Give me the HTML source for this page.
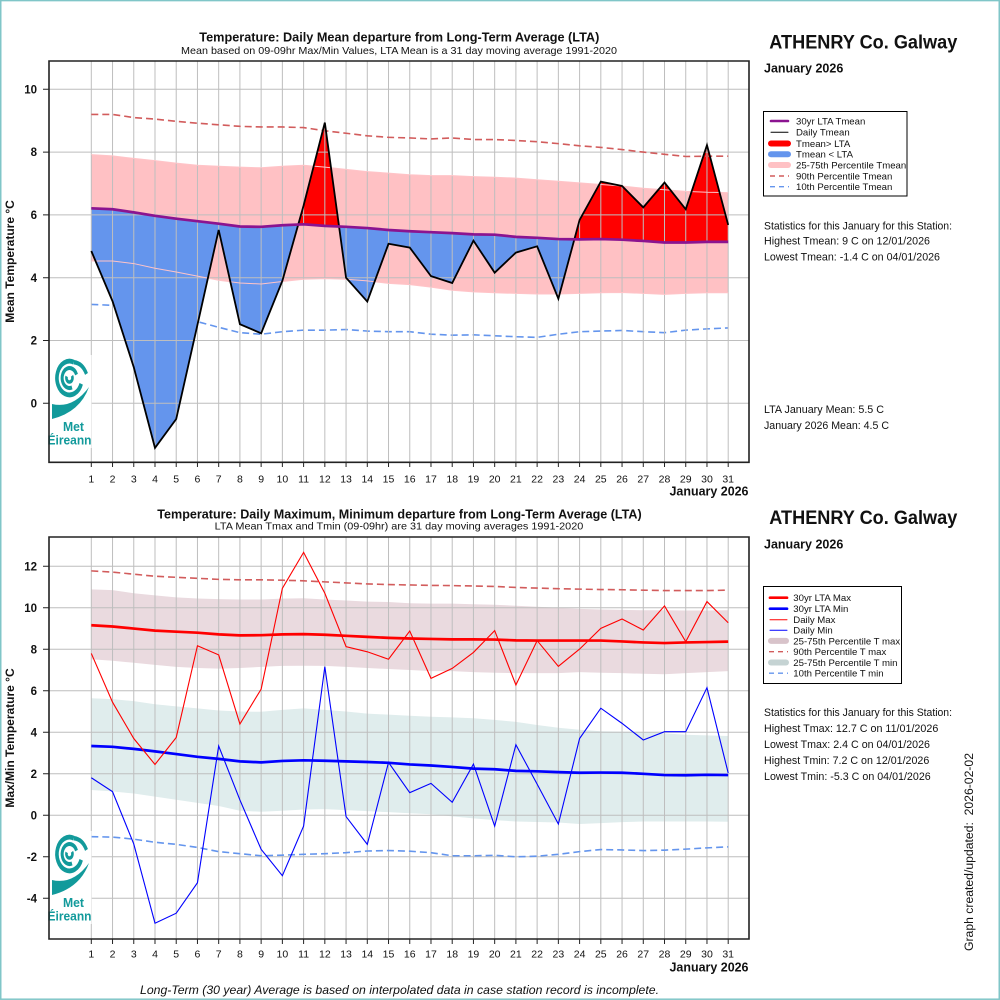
<!DOCTYPE html>
<html><head><meta charset="utf-8"><style>
html,body{margin:0;padding:0;background:#fff;}
svg{display:block;font-family:"Liberation Sans",Arial,sans-serif;}
.b{font-weight:bold;}
</style></head><body>
<svg width="1000" height="1000" viewBox="0 0 1000 1000" xmlns="http://www.w3.org/2000/svg">
<defs>
<clipPath id="aboveLTA" clipPathUnits="userSpaceOnUse"><polygon points="1,6.21 2,6.18 3,6.08 4,5.97 5,5.88 6,5.8 7,5.72 8,5.63 9,5.62 10,5.67 11,5.7 12,5.65 13,5.62 14,5.58 15,5.52 16,5.48 17,5.45 18,5.42 19,5.38 20,5.37 21,5.3 22,5.27 23,5.23 24,5.22 25,5.23 26,5.21 27,5.17 28,5.12 29,5.12 30,5.14 31,5.14 31,12 1,12"/></clipPath>
<clipPath id="belowLTA" clipPathUnits="userSpaceOnUse"><polygon points="1,6.21 2,6.18 3,6.08 4,5.97 5,5.88 6,5.8 7,5.72 8,5.63 9,5.62 10,5.67 11,5.7 12,5.65 13,5.62 14,5.58 15,5.52 16,5.48 17,5.45 18,5.42 19,5.38 20,5.37 21,5.3 22,5.27 23,5.23 24,5.22 25,5.23 26,5.21 27,5.17 28,5.12 29,5.12 30,5.14 31,5.14 31,-3 1,-3"/></clipPath>
</defs>
<rect x="0" y="0" width="1000" height="1000" fill="#fff"/>

<!-- ================= TOP CHART ================= -->
<g transform="matrix(21.23 0 0 -31.4 70.07 403.3)">
  <polygon fill="#ffc1c4" points="1,7.92 2,7.88 3,7.8 4,7.73 5,7.65 6,7.58 7,7.55 8,7.52 9,7.5 10,7.55 11,7.58 12,7.52 13,7.45 14,7.38 15,7.33 16,7.28 17,7.25 18,7.25 19,7.22 20,7.2 21,7.17 22,7.12 23,7.07 24,7.02 25,6.97 26,6.92 27,6.85 28,6.8 29,6.75 30,6.72 31,6.71 31,3.52 30,3.52 29,3.5 28,3.47 27,3.5 26,3.53 25,3.52 24,3.5 23,3.48 22,3.48 21,3.5 20,3.52 19,3.55 18,3.6 17,3.7 16,3.78 15,3.82 14,3.9 13,3.95 12,3.97 11,3.95 10,3.88 9,3.8 8,3.83 7,3.92 6,4.05 5,4.18 4,4.3 3,4.45 2,4.53 1,4.53"/>
  <polyline fill="none" stroke="#6495ed" stroke-width="1.6" stroke-dasharray="7,4" vector-effect="non-scaling-stroke" points="1,3.15 2,3.12 3,3.0 4,2.9 5,2.8 6,2.6 7,2.42 8,2.25 9,2.2 10,2.28 11,2.33 12,2.33 13,2.35 14,2.3 15,2.28 16,2.28 17,2.2 18,2.17 19,2.18 20,2.15 21,2.12 22,2.1 23,2.2 24,2.28 25,2.3 26,2.32 27,2.28 28,2.25 29,2.33 30,2.37 31,2.4"/>
  <polygon fill="#ff0000" clip-path="url(#aboveLTA)" points="1,4.85 2,3.25 3,1.15 4,-1.42 5,-0.5 6,2.5 7,5.52 8,2.52 9,2.23 10,3.9 11,6.3 12,8.94 13,4.0 14,3.24 15,5.08 16,4.96 17,4.05 18,3.83 19,5.18 20,4.16 21,4.8 22,5.0 23,3.33 24,5.84 25,7.06 26,6.92 27,6.24 28,7.03 29,6.18 30,8.22 31,5.68 31,-3 1,-3"/>
  <polygon fill="#6495ed" clip-path="url(#belowLTA)" points="1,4.85 2,3.25 3,1.15 4,-1.42 5,-0.5 6,2.5 7,5.52 8,2.52 9,2.23 10,3.9 11,6.3 12,8.94 13,4.0 14,3.24 15,5.08 16,4.96 17,4.05 18,3.83 19,5.18 20,4.16 21,4.8 22,5.0 23,3.33 24,5.84 25,7.06 26,6.92 27,6.24 28,7.03 29,6.18 30,8.22 31,5.68 31,12 1,12"/>
</g>
<!-- grid top -->
<path fill="none" stroke="#bebebe" stroke-width="1" d="M49,403.3H749M49,340.5H749M49,277.7H749M49,214.9H749M49,152.1H749M49,89.3H749
M91.3,61V462M112.53,61V462M133.76,61V462M154.99,61V462M176.22,61V462M197.45,61V462M218.68,61V462M239.91,61V462M261.14,61V462M282.37,61V462M303.6,61V462M324.83,61V462M346.06,61V462M367.29,61V462M388.52,61V462M409.75,61V462M430.98,61V462M452.21,61V462M473.44,61V462M494.67,61V462M515.9,61V462M537.13,61V462M558.36,61V462M579.59,61V462M600.82,61V462M622.05,61V462M643.28,61V462M664.51,61V462M685.74,61V462M706.97,61V462M728.2,61V462"/>
<g transform="matrix(21.23 0 0 -31.4 70.07 403.3)">
  <polyline fill="none" stroke="#ffc4c8" stroke-width="1" vector-effect="non-scaling-stroke" points="1,7.92 2,7.88 3,7.8 4,7.73 5,7.65 6,7.58 7,7.55 8,7.52 9,7.5 10,7.55 11,7.58 12,7.52 13,7.45 14,7.38 15,7.33 16,7.28 17,7.25 18,7.25 19,7.22 20,7.2 21,7.17 22,7.12 23,7.07 24,7.02 25,6.97 26,6.92 27,6.85 28,6.8 29,6.75 30,6.72 31,6.71"/>
  <polyline fill="none" stroke="#ffc4c8" stroke-width="1" vector-effect="non-scaling-stroke" points="31,3.52 30,3.52 29,3.5 28,3.47 27,3.5 26,3.53 25,3.52 24,3.5 23,3.48 22,3.48 21,3.5 20,3.52 19,3.55 18,3.6 17,3.7 16,3.78 15,3.82 14,3.9 13,3.95 12,3.97 11,3.95 10,3.88 9,3.8 8,3.83 7,3.92 6,4.05 5,4.18 4,4.3 3,4.45 2,4.53 1,4.53"/>
  <polyline fill="none" stroke="#d25c5c" stroke-width="1.6" stroke-dasharray="7,4" vector-effect="non-scaling-stroke" points="1,9.2 2,9.2 3,9.1 4,9.05 5,8.98 6,8.92 7,8.87 8,8.82 9,8.8 10,8.8 11,8.78 12,8.68 13,8.6 14,8.52 15,8.47 16,8.45 17,8.42 18,8.45 19,8.4 20,8.4 21,8.37 22,8.33 23,8.27 24,8.2 25,8.15 26,8.08 27,8.0 28,7.93 29,7.86 30,7.87 31,7.87"/>
  <polyline fill="none" stroke="#000" stroke-width="1.8" stroke-linejoin="miter" vector-effect="non-scaling-stroke" points="1,4.85 2,3.25 3,1.15 4,-1.42 5,-0.5 6,2.5 7,5.52 8,2.52 9,2.23 10,3.9 11,6.3 12,8.94 13,4.0 14,3.24 15,5.08 16,4.96 17,4.05 18,3.83 19,5.18 20,4.16 21,4.8 22,5.0 23,3.33 24,5.84 25,7.06 26,6.92 27,6.24 28,7.03 29,6.18 30,8.22 31,5.68"/>
  <polyline fill="none" stroke="#8b1490" stroke-width="2.7" stroke-linejoin="round" vector-effect="non-scaling-stroke" points="1,6.21 2,6.18 3,6.08 4,5.97 5,5.88 6,5.8 7,5.72 8,5.63 9,5.62 10,5.67 11,5.7 12,5.65 13,5.62 14,5.58 15,5.52 16,5.48 17,5.45 18,5.42 19,5.38 20,5.37 21,5.3 22,5.27 23,5.23 24,5.22 25,5.23 26,5.21 27,5.17 28,5.12 29,5.12 30,5.14 31,5.14"/>
</g>
<!-- logo top -->
<g id="logo">
  <rect x="50" y="355" width="41.5" height="93" fill="#fff"/>
  <g transform="translate(69.5,378) scale(1,1.35)" fill="none" stroke="#129a9b" stroke-linecap="butt">
    <path stroke-width="3.6" d="M4.3,-11.7 A12.5,12.5 0 1 0 11.7,4.3"/>
    <path stroke-width="3.2" d="M4.3,-11.7 Q13,-11 17,-3"/>
    <path stroke-width="3" d="M7,-2.5 A7.4,7.4 0 1 0 2.5,7"/>
    <path stroke-width="2.6" d="M-2.8,-1.2 A3,3 0 1 0 2.5,-1.6"/>
  </g>
  <path fill="#129a9b" d="M52,404 Q73,409 89,387 Q80,412 52,419 Z"/>
  <text class="b" x="63" y="431" fill="#129a9b" font-size="13" textLength="21" lengthAdjust="spacingAndGlyphs">Met</text>
  <text class="b" x="47.5" y="444.5" fill="#129a9b" font-size="12.5" textLength="44" lengthAdjust="spacingAndGlyphs">Éireann</text>
</g>
<!-- axes top -->
<path fill="none" stroke="#222" stroke-width="1.6" d="M49,61H749V462.3H49Z"/>
<path fill="none" stroke="#222" stroke-width="1" d="M43,403.3H49M43,340.5H49M43,277.7H49M43,214.9H49M43,152.1H49M43,89.3H49
M91.3,462V467M112.53,462V467M133.76,462V467M154.99,462V467M176.22,462V467M197.45,462V467M218.68,462V467M239.91,462V467M261.14,462V467M282.37,462V467M303.6,462V467M324.83,462V467M346.06,462V467M367.29,462V467M388.52,462V467M409.75,462V467M430.98,462V467M452.21,462V467M473.44,462V467M494.67,462V467M515.9,462V467M537.13,462V467M558.36,462V467M579.59,462V467M600.82,462V467M622.05,462V467M643.28,462V467M664.51,462V467M685.74,462V467M706.97,462V467M728.2,462V467"/>
<g class="b" font-size="11.5" text-anchor="end" fill="#111">
  <text x="37" y="407.4">0</text><text x="37" y="344.6">2</text><text x="37" y="281.8">4</text><text x="37" y="219">6</text><text x="37" y="156.2">8</text><text x="37" y="93.4">10</text>
</g>
<g font-size="10.5" text-anchor="middle" fill="#111">
  <text x="91.3" y="482.3">1</text><text x="112.53" y="482.3">2</text><text x="133.76" y="482.3">3</text><text x="154.99" y="482.3">4</text><text x="176.22" y="482.3">5</text><text x="197.45" y="482.3">6</text><text x="218.68" y="482.3">7</text><text x="239.91" y="482.3">8</text><text x="261.14" y="482.3">9</text><text x="282.37" y="482.3">10</text><text x="303.6" y="482.3">11</text><text x="324.83" y="482.3">12</text><text x="346.06" y="482.3">13</text><text x="367.29" y="482.3">14</text><text x="388.52" y="482.3">15</text><text x="409.75" y="482.3">16</text><text x="430.98" y="482.3">17</text><text x="452.21" y="482.3">18</text><text x="473.44" y="482.3">19</text><text x="494.67" y="482.3">20</text><text x="515.9" y="482.3">21</text><text x="537.13" y="482.3">22</text><text x="558.36" y="482.3">23</text><text x="579.59" y="482.3">24</text><text x="600.82" y="482.3">25</text><text x="622.05" y="482.3">26</text><text x="643.28" y="482.3">27</text><text x="664.51" y="482.3">28</text><text x="685.74" y="482.3">29</text><text x="706.97" y="482.3">30</text><text x="728.2" y="482.3">31</text>
</g>
<text class="b" x="669.5" y="495.7" font-size="12.5" textLength="79" lengthAdjust="spacingAndGlyphs" fill="#111">January 2026</text>
<text class="b" x="199.3" y="41.5" font-size="12.5" textLength="400" lengthAdjust="spacingAndGlyphs" fill="#111">Temperature: Daily Mean departure from Long-Term Average (LTA)</text>
<text x="181" y="54" font-size="10.4" textLength="436" lengthAdjust="spacingAndGlyphs" fill="#111">Mean based on 09-09hr Max/Min Values, LTA Mean is a 31 day moving average 1991-2020</text>
<text class="b" transform="translate(14,261.5) rotate(-90)" text-anchor="middle" font-size="12" fill="#111">Mean Temperature °C</text>

<!-- right panel top -->
<text class="b" x="769.3" y="48.3" font-size="19" textLength="188" lengthAdjust="spacingAndGlyphs" fill="#111">ATHENRY Co. Galway</text>
<text class="b" x="764" y="72.3" font-size="12.8" textLength="79.3" lengthAdjust="spacingAndGlyphs" fill="#111">January 2026</text>
<rect x="763.5" y="111.5" width="143.5" height="84.5" fill="#fff" stroke="#000" stroke-width="1"/>
<g stroke-linecap="round">
  <line x1="771" y1="121" x2="788" y2="121" stroke="#8b1490" stroke-width="2.6"/>
  <line x1="771" y1="132.3" x2="788" y2="132.3" stroke="#000" stroke-width="1"/>
  <line x1="771" y1="143.5" x2="788" y2="143.5" stroke="#ff0000" stroke-width="6"/>
  <line x1="771" y1="154.3" x2="788" y2="154.3" stroke="#6495ed" stroke-width="6"/>
  <line x1="771" y1="165" x2="788" y2="165" stroke="#ffc1c4" stroke-width="6"/>
</g>
<line x1="770" y1="176" x2="789" y2="176" stroke="#d25c5c" stroke-width="1.4" stroke-dasharray="5,4"/>
<line x1="770" y1="186.7" x2="789" y2="186.7" stroke="#6495ed" stroke-width="1.4" stroke-dasharray="5,4"/>
<g font-size="9.6" fill="#111">
  <text x="796" y="124.4">30yr LTA Tmean</text>
  <text x="796" y="135.7">Daily Tmean</text>
  <text x="796" y="146.9">Tmean&gt; LTA</text>
  <text x="796" y="157.7">Tmean &lt; LTA</text>
  <text x="796" y="168.4">25-75th Percentile Tmean</text>
  <text x="796" y="179.4">90th Percentile Tmean</text>
  <text x="796" y="190.1">10th Percentile Tmean</text>
</g>
<g font-size="11" fill="#111">
  <text x="764" y="229.3" textLength="188" lengthAdjust="spacingAndGlyphs">Statistics for this January for this Station:</text>
  <text x="764" y="244.6" textLength="166" lengthAdjust="spacingAndGlyphs">Highest Tmean: 9 C on 12/01/2026</text>
  <text x="764" y="260.5" textLength="176" lengthAdjust="spacingAndGlyphs">Lowest Tmean: -1.4 C on 04/01/2026</text>
  <text x="764" y="413.2" textLength="120" lengthAdjust="spacingAndGlyphs">LTA January Mean: 5.5 C</text>
  <text x="764" y="429" textLength="125" lengthAdjust="spacingAndGlyphs">January 2026 Mean: 4.5 C</text>
</g>

<!-- ================= BOTTOM CHART ================= -->
<g transform="matrix(21.23 0 0 -20.75 70.07 815.3)">
  <polygon fill="#eadadf" points="1,10.89 2,10.85 3,10.7 4,10.6 5,10.5 6,10.45 7,10.42 8,10.4 9,10.4 10,10.44 11,10.46 12,10.4 13,10.35 14,10.3 15,10.28 16,10.22 17,10.2 18,10.2 19,10.17 20,10.15 21,10.1 22,10.05 23,10.0 24,9.95 25,9.92 26,9.9 27,9.88 28,9.88 29,9.87 30,9.87 31,9.88 31,6.95 30,6.9 29,6.85 28,6.8 27,6.82 26,6.85 25,6.87 24,6.9 23,6.85 22,6.85 21,6.85 20,6.87 19,6.9 18,6.95 17,6.95 16,7.0 15,7.05 14,7.1 13,7.15 12,7.2 11,7.21 10,7.2 9,7.15 8,7.1 7,7.07 6,7.1 5,7.15 4,7.25 3,7.35 2,7.45 1,7.52"/>
  <polygon fill="#e0eded" points="1,5.64 2,5.6 3,5.5 4,5.35 5,5.25 6,5.15 7,5.05 8,5.0 9,4.99 10,5.08 11,5.15 12,5.08 13,5.0 14,4.9 15,4.85 16,4.8 17,4.75 18,4.72 19,4.68 20,4.6 21,4.5 22,4.35 23,4.22 24,4.12 25,4.05 26,4.03 27,4.02 28,3.95 29,3.88 30,3.85 31,3.82 31,-0.31 30,-0.3 29,-0.3 28,-0.3 27,-0.3 26,-0.33 25,-0.38 24,-0.42 23,-0.35 22,-0.32 21,-0.3 20,-0.23 19,-0.15 18,-0.05 17,0.05 16,0.1 15,0.15 14,0.2 13,0.25 12,0.3 11,0.28 10,0.22 9,0.17 8,0.22 7,0.45 6,0.6 5,0.75 4,0.9 3,1.05 2,1.15 1,1.22"/>
</g>
<path fill="none" stroke="#bebebe" stroke-width="1" d="M49,898.3H749M49,856.8H749M49,815.3H749M49,773.8H749M49,732.3H749M49,690.8H749M49,649.3H749M49,607.8H749M49,566.3H749
M91.3,537V939M112.53,537V939M133.76,537V939M154.99,537V939M176.22,537V939M197.45,537V939M218.68,537V939M239.91,537V939M261.14,537V939M282.37,537V939M303.6,537V939M324.83,537V939M346.06,537V939M367.29,537V939M388.52,537V939M409.75,537V939M430.98,537V939M452.21,537V939M473.44,537V939M494.67,537V939M515.9,537V939M537.13,537V939M558.36,537V939M579.59,537V939M600.82,537V939M622.05,537V939M643.28,537V939M664.51,537V939M685.74,537V939M706.97,537V939M728.2,537V939"/>
<g transform="matrix(21.23 0 0 -20.75 70.07 815.3)" fill="none" stroke-linejoin="round">
  <polyline stroke="#d25c5c" stroke-width="1.6" stroke-dasharray="7,4" vector-effect="non-scaling-stroke" points="1,11.78 2,11.72 3,11.62 4,11.52 5,11.47 6,11.42 7,11.37 8,11.35 9,11.35 10,11.33 11,11.3 12,11.25 13,11.2 14,11.15 15,11.12 16,11.1 17,11.08 18,11.07 19,11.05 20,11.03 21,10.98 22,10.95 23,10.92 24,10.9 25,10.88 26,10.87 27,10.85 28,10.83 29,10.83 30,10.83 31,10.85"/>
  <polyline stroke="#6495ed" stroke-width="1.6" stroke-dasharray="7,4" vector-effect="non-scaling-stroke" points="1,-1.03 2,-1.05 3,-1.15 4,-1.3 5,-1.4 6,-1.55 7,-1.75 8,-1.85 9,-1.95 10,-1.92 11,-1.88 12,-1.85 13,-1.8 14,-1.72 15,-1.7 16,-1.73 17,-1.8 18,-1.95 19,-1.95 20,-1.93 21,-2.0 22,-1.97 23,-1.88 24,-1.75 25,-1.65 26,-1.67 27,-1.7 28,-1.68 29,-1.63 30,-1.57 31,-1.52"/>
  <polyline stroke="#ff0000" stroke-width="2.7" vector-effect="non-scaling-stroke" points="1,9.16 2,9.1 3,9.0 4,8.9 5,8.85 6,8.8 7,8.72 8,8.67 9,8.68 10,8.72 11,8.73 12,8.7 13,8.65 14,8.6 15,8.55 16,8.52 17,8.5 18,8.48 19,8.48 20,8.47 21,8.43 22,8.42 23,8.42 24,8.42 25,8.42 26,8.38 27,8.33 28,8.3 29,8.33 30,8.35 31,8.37"/>
  <polyline stroke="#0000ff" stroke-width="2.7" vector-effect="non-scaling-stroke" points="1,3.34 2,3.3 3,3.2 4,3.08 5,2.95 6,2.82 7,2.72 8,2.6 9,2.55 10,2.62 11,2.65 12,2.63 13,2.6 14,2.57 15,2.53 16,2.45 17,2.4 18,2.33 19,2.25 20,2.22 21,2.14 22,2.12 23,2.08 24,2.05 25,2.06 26,2.05 27,2.0 28,1.94 29,1.93 30,1.95 31,1.94"/>
  <polyline stroke="#ff0000" stroke-width="1.1" stroke-linejoin="miter" vector-effect="non-scaling-stroke" points="1,7.8 2,5.45 3,3.7 4,2.45 5,3.75 6,8.17 7,7.73 8,4.4 9,6.08 10,10.94 11,12.67 12,10.7 13,8.13 14,7.88 15,7.52 16,8.88 17,6.6 18,7.08 19,7.85 20,8.9 21,6.28 22,8.42 23,7.18 24,8.01 25,9.01 26,9.46 27,8.93 28,10.09 29,8.37 30,10.3 31,9.28"/>
  <polyline stroke="#0000ff" stroke-width="1.1" stroke-linejoin="miter" vector-effect="non-scaling-stroke" points="1,1.81 2,1.14 3,-1.38 4,-5.2 5,-4.72 6,-3.25 7,3.34 8,0.74 9,-1.64 10,-2.91 11,-0.52 12,7.16 13,-0.06 14,-1.4 15,2.55 16,1.09 17,1.54 18,0.63 19,2.47 20,-0.52 21,3.4 22,1.5 23,-0.42 24,3.7 25,5.16 26,4.43 27,3.63 28,4.03 29,4.03 30,6.15 31,2.04"/>
</g>
<use href="#logo" transform="translate(0,476)"/>
<path fill="none" stroke="#222" stroke-width="1.6" d="M49,537H749V939H49Z"/>
<path fill="none" stroke="#222" stroke-width="1" d="M43,898.3H49M43,856.8H49M43,815.3H49M43,773.8H49M43,732.3H49M43,690.8H49M43,649.3H49M43,607.8H49M43,566.3H49
M91.3,939V944M112.53,939V944M133.76,939V944M154.99,939V944M176.22,939V944M197.45,939V944M218.68,939V944M239.91,939V944M261.14,939V944M282.37,939V944M303.6,939V944M324.83,939V944M346.06,939V944M367.29,939V944M388.52,939V944M409.75,939V944M430.98,939V944M452.21,939V944M473.44,939V944M494.67,939V944M515.9,939V944M537.13,939V944M558.36,939V944M579.59,939V944M600.82,939V944M622.05,939V944M643.28,939V944M664.51,939V944M685.74,939V944M706.97,939V944M728.2,939V944"/>
<g class="b" font-size="11.5" text-anchor="end" fill="#111">
  <text x="37" y="902.4">-4</text><text x="37" y="860.9">-2</text><text x="37" y="819.4">0</text><text x="37" y="777.9">2</text><text x="37" y="736.4">4</text><text x="37" y="694.9">6</text><text x="37" y="653.4">8</text><text x="37" y="611.9">10</text><text x="37" y="570.4">12</text>
</g>
<g font-size="10.5" text-anchor="middle" fill="#111">
  <text x="91.3" y="957.3">1</text><text x="112.53" y="957.3">2</text><text x="133.76" y="957.3">3</text><text x="154.99" y="957.3">4</text><text x="176.22" y="957.3">5</text><text x="197.45" y="957.3">6</text><text x="218.68" y="957.3">7</text><text x="239.91" y="957.3">8</text><text x="261.14" y="957.3">9</text><text x="282.37" y="957.3">10</text><text x="303.6" y="957.3">11</text><text x="324.83" y="957.3">12</text><text x="346.06" y="957.3">13</text><text x="367.29" y="957.3">14</text><text x="388.52" y="957.3">15</text><text x="409.75" y="957.3">16</text><text x="430.98" y="957.3">17</text><text x="452.21" y="957.3">18</text><text x="473.44" y="957.3">19</text><text x="494.67" y="957.3">20</text><text x="515.9" y="957.3">21</text><text x="537.13" y="957.3">22</text><text x="558.36" y="957.3">23</text><text x="579.59" y="957.3">24</text><text x="600.82" y="957.3">25</text><text x="622.05" y="957.3">26</text><text x="643.28" y="957.3">27</text><text x="664.51" y="957.3">28</text><text x="685.74" y="957.3">29</text><text x="706.97" y="957.3">30</text><text x="728.2" y="957.3">31</text>
</g>
<text class="b" x="669.5" y="971.7" font-size="12.5" textLength="79" lengthAdjust="spacingAndGlyphs" fill="#111">January 2026</text>
<text class="b" x="157.3" y="518.5" font-size="12.5" textLength="484.4" lengthAdjust="spacingAndGlyphs" fill="#111">Temperature: Daily Maximum, Minimum departure from Long-Term Average (LTA)</text>
<text x="214.7" y="529.6" font-size="10.4" textLength="368.6" lengthAdjust="spacingAndGlyphs" fill="#111">LTA Mean Tmax and Tmin (09-09hr) are 31 day moving averages 1991-2020</text>
<text class="b" transform="translate(14,738) rotate(-90)" text-anchor="middle" font-size="12" fill="#111">Max/Min Temperature °C</text>
<text x="140" y="994" font-size="12" font-style="italic" textLength="519" lengthAdjust="spacingAndGlyphs" fill="#111">Long-Term (30 year) Average is based on interpolated data in case station record is incomplete.</text>

<!-- right panel bottom -->
<text class="b" x="769.3" y="524" font-size="19" textLength="188" lengthAdjust="spacingAndGlyphs" fill="#111">ATHENRY Co. Galway</text>
<text class="b" x="764" y="548.3" font-size="12.8" textLength="79.3" lengthAdjust="spacingAndGlyphs" fill="#111">January 2026</text>
<rect x="763.5" y="586.5" width="138" height="97" fill="#fff" stroke="#000" stroke-width="1"/>
<g stroke-linecap="round">
  <line x1="770" y1="597.7" x2="787" y2="597.7" stroke="#ff0000" stroke-width="2.7"/>
  <line x1="770" y1="608.7" x2="787" y2="608.7" stroke="#0000ff" stroke-width="2.7"/>
  <line x1="770" y1="619.7" x2="787" y2="619.7" stroke="#ff0000" stroke-width="1"/>
  <line x1="770" y1="630.3" x2="787" y2="630.3" stroke="#0000ff" stroke-width="1"/>
  <line x1="771" y1="640.9" x2="786" y2="640.9" stroke="#d8c3ca" stroke-width="6"/>
  <line x1="771" y1="662.5" x2="786" y2="662.5" stroke="#c5d3d3" stroke-width="6"/>
</g>
<line x1="769" y1="651.7" x2="788" y2="651.7" stroke="#d25c5c" stroke-width="1.4" stroke-dasharray="5,4"/>
<line x1="769" y1="673.2" x2="788" y2="673.2" stroke="#6495ed" stroke-width="1.4" stroke-dasharray="5,4"/>
<g font-size="9.6" fill="#111">
  <text x="793.3" y="601.1">30yr LTA Max</text>
  <text x="793.3" y="612.1">30yr LTA Min</text>
  <text x="793.3" y="623.1">Daily Max</text>
  <text x="793.3" y="633.7">Daily Min</text>
  <text x="793.3" y="644.3">25-75th Percentile T max</text>
  <text x="793.3" y="655.1">90th Percentile T max</text>
  <text x="793.3" y="665.9">25-75th Percentile T min</text>
  <text x="793.3" y="676.6">10th Percentile T min</text>
</g>
<g font-size="11" fill="#111">
  <text x="764" y="716" textLength="188" lengthAdjust="spacingAndGlyphs">Statistics for this January for this Station:</text>
  <text x="764" y="732" textLength="174.3" lengthAdjust="spacingAndGlyphs">Highest Tmax: 12.7 C on 11/01/2026</text>
  <text x="764" y="747.8" textLength="166" lengthAdjust="spacingAndGlyphs">Lowest Tmax: 2.4 C on 04/01/2026</text>
  <text x="764" y="763.8" textLength="165.3" lengthAdjust="spacingAndGlyphs">Highest Tmin: 7.2 C on 12/01/2026</text>
  <text x="764" y="779.8" textLength="166.7" lengthAdjust="spacingAndGlyphs">Lowest Tmin: -5.3 C on 04/01/2026</text>
</g>
<text transform="translate(973,951) rotate(-90)" font-size="12.2" fill="#111" style="white-space:pre" textLength="198" lengthAdjust="spacingAndGlyphs">Graph created/updated:  2026-02-02</text>

<!-- outer teal border -->
<rect x="0.75" y="0.6" width="998.5" height="998.6" fill="none" stroke="#80c6c8" stroke-width="1.5"/>
</svg>
</body></html>
